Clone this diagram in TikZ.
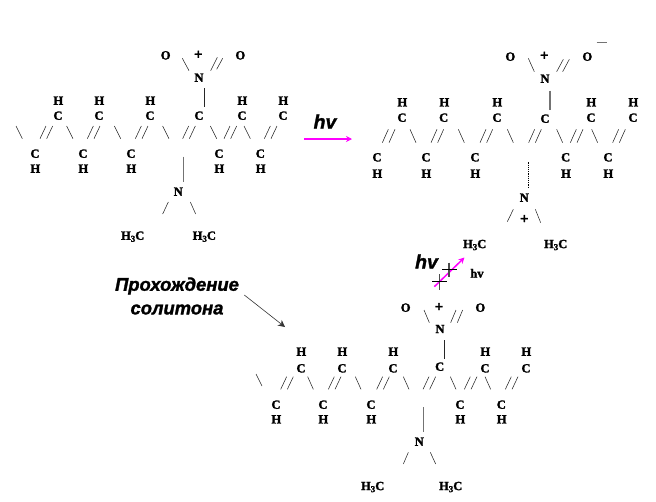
\documentclass[tikz,border=0pt]{standalone}
\usepackage{fontspec}
\setmainfont[BoldFeatures={FakeBold=2}]{Liberation Serif}
\newfontfamily\capsans[BoldItalicFeatures={FakeBold=1.5}]{Liberation Sans}
\definecolor{pinkarrow}{RGB}{255,0,255}
\usetikzlibrary{arrows.meta}
\tikzset{
  atom/.style={inner sep=0pt,font=\fontsize{12.5}{12.5}\selectfont\bfseries,text=black},
  plussign/.style={inner sep=0pt,font=\fontsize{15}{15}\selectfont\bfseries,text=black},
  bondline/.style={line width=.55pt,black!85},
  hatch/.style={line width=1.3pt,black!55},
  dotline/.style={line width=1pt,black,dash pattern=on 1.2pt off 1pt},
  capt/.style={inner sep=0pt,font=\fontsize{18.4}{18.4}\selectfont\capsans\bfseries\itshape,text=black},
  hvcapt/.style={inner sep=0pt,font=\fontsize{19.5}{19.5}\selectfont\capsans\bfseries\itshape,text=black},
  pinkline/.style={line width=1.5pt,pinkarrow,-{Stealth[length=6pt,width=6pt]}},
  blackline/.style={line width=.6pt,black!80,-{Stealth[length=7pt,width=7pt]}},
  zoomed/.style={x=.33333pt,y=-.33333pt}
}
\newcommand{\methyl}{H\raisebox{-2pt}{\fontsize{9}{9}\selectfont 3}C}
\begin{document}
\begin{tikzpicture}[x=1pt,y=-1pt]
\useasboundingbox (0,0) rectangle (656,501);
% ---------- first molecule ----------
\begin{scope}[shift={(0,30)},zoomed]
  \node[atom] (aO1) at (497,76) {O};
  \node[plussign] (aP) at (595,75) {+};
  \node[atom] (aO2) at (721,76) {O};
  \node[atom] (aN1) at (597,143) {N};
  \foreach \x [count=\i] in {175,298,451,727,850} \node[atom] (aUH\i) at (\x,212) {H};
  \foreach \x [count=\i] in {174,297,450,597,726,849} \node[atom] (aUC\i) at (\x,257) {C};
  \foreach \x [count=\i] in {105,249,393,657,781} {
    \node[atom] (aLC\i) at (\x,371) {C};
    \node[atom] (aLH\i) at (\x+1,416) {H};
  }
  \draw[bondline] (547,85) -- (567,122);
  \draw[bondline] (632,122) -- (652,82) (650,118) -- (668,85);
  \draw[bondline] (613,175) -- (613,230);
  \foreach \x in {48,200,343,488,631,732} \draw[bondline] (\x,288) -- ++(19,38);
  \foreach \x in {120,262,406,548,672,793} \draw[bondline] (\x,326) -- ++(18,-38) (\x+20,326) -- ++(18,-38);
  \draw[hatch] (551,380) -- (551,455);
  \node[atom] (aN2) at (535,485) {N};
  \draw[bondline] (505,516) -- (488,552) (571,516) -- (587,552);
  \node[atom] (aM1) at (398,620) {\methyl};
  \node[atom] (aM2) at (613,620) {\methyl};
\end{scope}
% ---------- second molecule ----------
\begin{scope}[shift={(300,30)},zoomed]
  \node[atom] (bO1) at (631,80) {O};
  \node[plussign] (bP) at (733,78) {+};
  \node[atom] (bO2) at (862,80) {O};
  \draw[hatch] (890,38) -- (920,38);
  \node[atom] (bN1) at (735,146) {N};
  \foreach \x [count=\i] in {307,433,592,874,1000} \node[atom] (bUH\i) at (\x,217) {H};
  \foreach \x [count=\i] in {306,431,591,873,999} \node[atom] (bUC\i) at (\x,263) {C};
  \node[atom] (bUC6) at (735,266) {C};
  \foreach \x [count=\i] in {231,378,525,797,924} {
    \node[atom] (bLC\i) at (\x,382) {C};
    \node[atom] (bLH\i) at (\x+1,431) {H};
  }
  \draw[bondline] (685,85) -- (703,125);
  \draw[bondline] (770,125) -- (790,88) (788,125) -- (808,88);
  \draw[hatch] (750,182) -- (750,240);
  \foreach \x in {330,475,622,770,875} \draw[bondline] (\x,298) -- ++(18,40);
  \foreach \x in {247,393,540,686,811,938} \draw[bondline] (\x,338) -- ++(18,-40) (\x+20,338) -- ++(18,-40);
  \draw[dotline] (686,397) -- (686,472);
  \node[atom] (bN2) at (673,503) {N};
  \draw[bondline] (640,538) -- (622,575) (706,538) -- (722,578);
  \node[plussign] (bP2) at (673,568) {+};
  \node[atom] (bM1) at (524,645) {\methyl};
  \node[atom] (bM2) at (767,645) {\methyl};
\end{scope}
% ---------- third molecule ----------
\begin{scope}[shift={(240,330)},zoomed]
  \node[atom] (cO1) at (497,-67) {O};
  \node[plussign] (cP) at (597,-68) {+};
  \node[atom] (cO2) at (721,-67) {O};
  \node[atom] (cN1) at (600,-3) {N};
  \draw[bondline] (552,-60) -- (568,-22);
  \draw[bondline] (632,-22) -- (648,-60) (652,-22) -- (668,-60);
  \draw[bondline] (613,30) -- (613,87);
  \foreach \x [count=\i] in {184,307,460,736,859} \node[atom] (cUH\i) at (\x,65) {H};
  \foreach \x [count=\i] in {183,306,459,735,858} \node[atom] (cUC\i) at (\x,115) {C};
  \node[atom] (cUC6) at (599,110) {C};
  \foreach \x [count=\i] in {108,249,393,660,784} {
    \node[atom] (cLC\i) at (\x,224) {C};
    \node[atom] (cLH\i) at (\x+1,268) {H};
  }
  \draw[bondline] (48,132) -- (66,168);
  \foreach \x in {203,346,490,631,735} \draw[bondline] (\x,140) -- ++(17,38);
  \foreach \x in {122,265,410,549,673,796} \draw[bondline] (\x,178) -- ++(18,-38) (\x+20,178) -- ++(18,-38);
  \draw[hatch] (551,232) -- (551,305);
  \node[atom] (cN2) at (538,335) {N};
  \draw[bondline] (505,367) -- (490,402) (571,367) -- (587,402);
  \node[atom] (cM1) at (398,471) {\methyl};
  \node[atom] (cM2) at (632,471) {\methyl};
\end{scope}
% ---------- reaction arrow ----------
\node[hvcapt] (hvA) at (325,121.5) {hv};
\coordinate (arrA) at (304,139);
\coordinate (arrB) at (352,139);
\draw[pinkline] (arrA) -- (arrB);
% ---------- soliton caption ----------
\node[capt] (solA) at (177,286) {Прохождение};
\node[capt] (solB) at (177,309.5) {солитона};
\coordinate (solS) at (244.3,295);
\coordinate (solE) at (285,327);
\draw[blackline] (solS) -- (solE);
% ---------- second hv group ----------
\node[hvcapt] (hvB) at (426.5,261.5) {hv};
\node[atom] (hvC) at (477,273.3) {hv};
\coordinate (dA) at (434.3,286.7);
\coordinate (dB) at (464.5,257.5);
\draw[pinkline] (dA) -- (dB);
\draw[hatch,line width=1.5pt,black!70] (449,262.5) -- (449,276.5) (439.3,274) -- (439.3,289.5);
\draw[line width=1.3pt,black] (442.3,269.3) -- (456.5,269.3) (432.3,281.7) -- (446.7,281.7);
\end{tikzpicture}
\end{document}
